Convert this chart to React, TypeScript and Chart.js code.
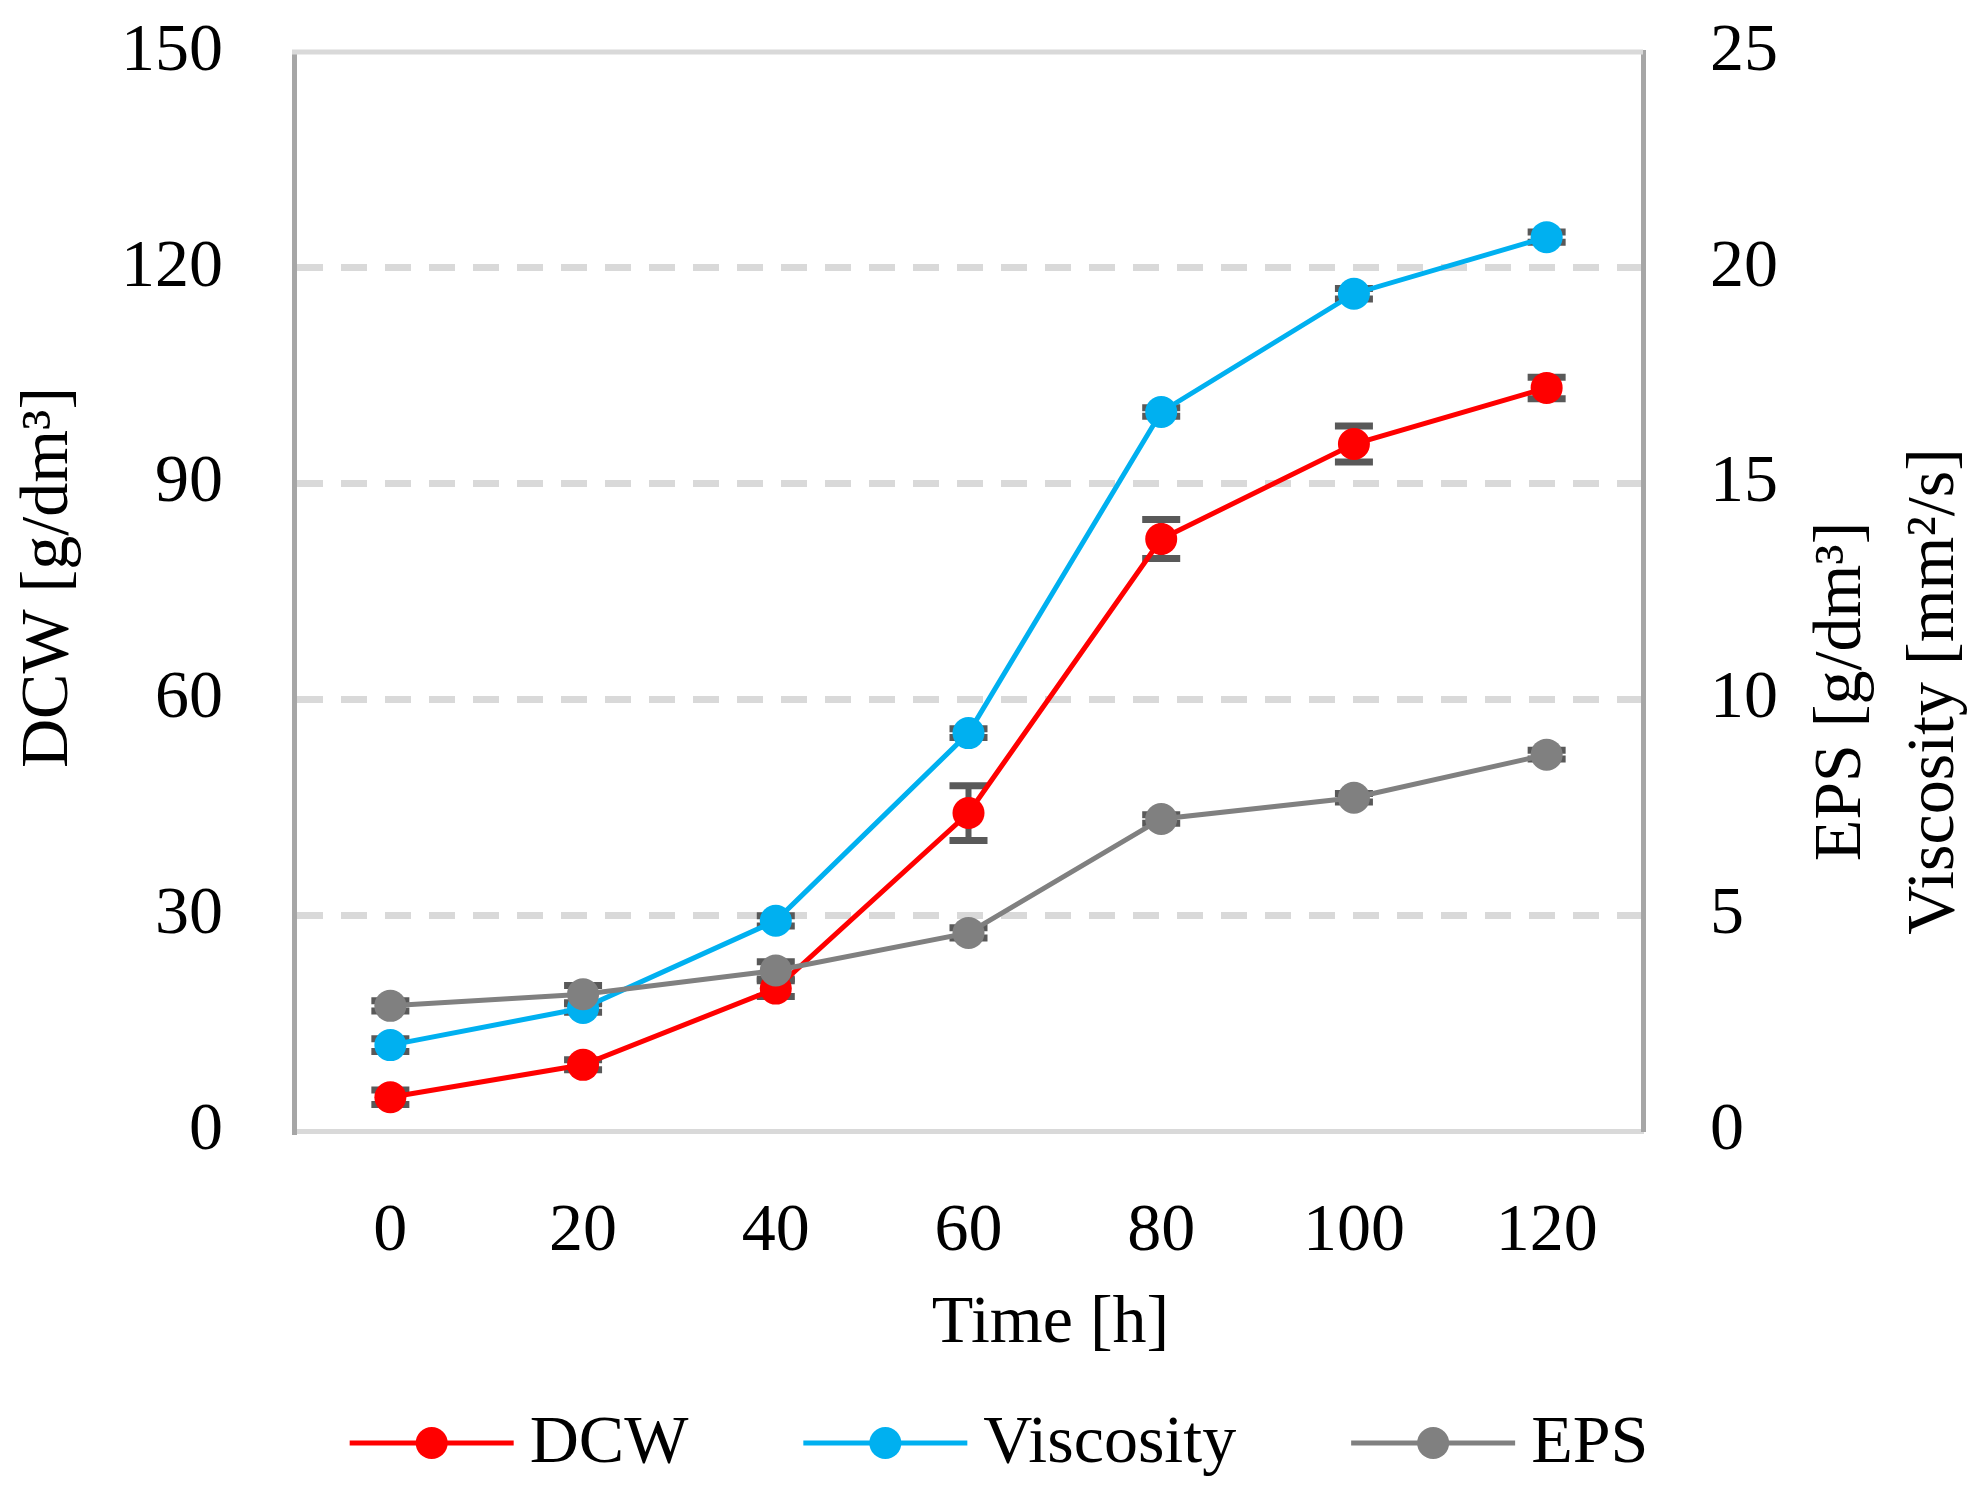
import { useEffect, useRef } from "react"
import { Chart, registerables } from "chart.js"

Chart.register(...registerables)

// values
const timeLabels = ["0", "20", "40", "60", "80", "100", "120"]
const dcwValues = [4.7, 9.2, 19.8, 44.2, 82.3, 95.5, 103.3]
const dcwErrors = [1.0, 0.7, 1.1, 3.8, 2.7, 2.5, 1.5]
const viscosityValues = [1.99, 2.85, 4.87, 9.22, 16.66, 19.4, 20.71]
const viscosityErrors = [0.15, 0.1, 0.12, 0.1, 0.1, 0.12, 0.12]
const epsValues = [2.9, 3.17, 3.72, 4.59, 7.23, 7.72, 8.72]
const epsErrors = [0.12, 0.2, 0.2, 0.12, 0.1, 0.1, 0.1]

const leftMax = 150
const leftStep = 30
const rightMax = 25
const rightStep = 5

const FONT = '"Palatino Linotype", "Book Antiqua", Palatino, "Liberation Serif", serif'
const FONT_SIZE = 68
const ERR_COLOR = "#595959"

const series = [
  { label: "DCW", data: dcwValues, errors: dcwErrors, color: "#ff0000", axis: "y", order: 3 },
  { label: "Viscosity", data: viscosityValues, errors: viscosityErrors, color: "#00b0f0", axis: "y1", order: 2 },
  { label: "EPS", data: epsValues, errors: epsErrors, color: "#808080", axis: "y1", order: 1 },
]

const extras = {
  id: "extras",
  beforeDatasetsDraw(chart: any) {
    const { ctx, chartArea } = chart
    ctx.save()
    // top frame line
    ctx.strokeStyle = "#d9d9d9"
    ctx.lineWidth = 5
    ctx.beginPath()
    ctx.moveTo(chartArea.left - 2, chartArea.top)
    ctx.lineTo(chartArea.right, chartArea.top)
    ctx.stroke()

    // error bars
    ctx.strokeStyle = ERR_COLOR
    series.forEach((s, i) => {
      const meta = chart.getDatasetMeta(i)
      const yScale = chart.scales[s.axis]
      s.data.forEach((v, j) => {
        const x = meta.data[j].x
        const yTop = yScale.getPixelForValue(v + s.errors[j])
        const yBot = yScale.getPixelForValue(v - s.errors[j])
        ctx.lineWidth = 6
        ctx.beginPath()
        ctx.moveTo(x, yTop)
        ctx.lineTo(x, yBot)
        ctx.stroke()
        ctx.lineWidth = 7
        ctx.beginPath()
        ctx.moveTo(x - 19, yTop)
        ctx.lineTo(x + 19, yTop)
        ctx.moveTo(x - 19, yBot)
        ctx.lineTo(x + 19, yBot)
        ctx.stroke()
      })
    })
    ctx.restore()
  },
  afterDraw(chart: any) {
    const { ctx, chartArea } = chart
    ctx.save()
    ctx.fillStyle = "#000"
    ctx.font = `${FONT_SIZE}px ${FONT}`
    ctx.textBaseline = "alphabetic"
    ctx.textAlign = "center"

    // axis titles
    const midY = (chartArea.top + chartArea.bottom) / 2
    ctx.save()
    ctx.translate(67, midY - 14)
    ctx.rotate(-Math.PI / 2)
    ctx.fillText("DCW [g/dm³]", 0, 0)
    ctx.restore()

    ctx.save()
    ctx.translate(chartArea.right + 217, midY + 100)
    ctx.rotate(-Math.PI / 2)
    ctx.fillText("EPS [g/dm³]", 0, 0)
    ctx.fillText("Viscosity [mm²/s]", 0, 93)
    ctx.restore()

    ctx.fillText("Time [h]", (chartArea.left + chartArea.right) / 2 + 82, 1342)

    // legend
    const lineLen = 164
    const textGap = 16
    const itemGap = 115
    const widths = series.map((s) => lineLen + textGap + ctx.measureText(s.label).width)
    const total = widths.reduce((a, b) => a + b, 0) + itemGap * (series.length - 1)
    let x = chart.width / 2 + 6 - total / 2
    const lineY = 1443
    ctx.textAlign = "left"
    series.forEach((s, i) => {
      ctx.strokeStyle = s.color
      ctx.lineWidth = 5
      ctx.beginPath()
      ctx.moveTo(x, lineY)
      ctx.lineTo(x + lineLen, lineY)
      ctx.stroke()
      ctx.fillStyle = s.color
      ctx.beginPath()
      ctx.arc(x + lineLen / 2, lineY, 16, 0, Math.PI * 2)
      ctx.fill()
      ctx.fillStyle = "#000"
      ctx.fillText(s.label, x + lineLen + textGap, 1462)
      x += widths[i] + itemGap
    })
    ctx.restore()
  },
}

function GrowthChart() {
  const chartRef = useRef<HTMLCanvasElement>(null)
  const chartInstance = useRef<Chart | null>(null)

  useEffect(() => {
    document.body.style.margin = "0"
    if (!chartRef.current) return
    if (chartInstance.current) chartInstance.current.destroy()

    const tickFont = { family: FONT, size: FONT_SIZE }

    chartInstance.current = new Chart(chartRef.current, {
      type: "line",
      data: {
        labels: timeLabels,
        datasets: series.map((s) => ({
          label: s.label,
          data: s.data,
          yAxisID: s.axis,
          order: s.order,
          borderColor: s.color,
          backgroundColor: s.color,
          borderWidth: 5,
          pointRadius: 16,
          pointHoverRadius: 16,
          pointBorderWidth: 0,
          pointBackgroundColor: s.color,
          tension: 0,
          fill: false,
        })),
      },
      options: {
        responsive: false,
        animation: false,
        events: [],
        layout: { padding: { top: 52, left: 0, right: 0, bottom: 0 } },
        plugins: {
          legend: { display: false },
          tooltip: { enabled: false },
          title: { display: false },
        },
        scales: {
          x: {
            type: "category",
            offset: true,
            grid: { display: false, drawTicks: false },
            border: { display: true, color: "#d9d9d9", width: 5 },
            ticks: { font: tickFont, color: "#000", padding: 60, maxRotation: 0 },
            afterFit: (scale: any) => {
              scale.height = 367
              scale.paddingLeft = 0
              scale.paddingRight = 0
            },
          },
          y: {
            position: "left",
            min: 0,
            max: leftMax,
            ticks: { stepSize: leftStep, font: tickFont, color: "#000", padding: 71 },
            grid: {
              drawTicks: false,
              lineWidth: 7,
              color: (ctx: any) =>
                ctx.tick && (ctx.tick.value === 0 || ctx.tick.value === leftMax) ? "rgba(0,0,0,0)" : "#d9d9d9",
            },
            border: { display: true, color: "#a6a6a6", width: 5, dash: [26, 18] },
            afterFit: (scale: any) => {
              scale.width = 294
              scale.paddingTop = 0
              scale.paddingBottom = 0
            },
          },
          y1: {
            position: "right",
            min: 0,
            max: rightMax,
            ticks: { stepSize: rightStep, font: tickFont, color: "#000", padding: 67 },
            grid: { drawOnChartArea: false, drawTicks: false },
            border: { display: true, color: "#a6a6a6", width: 5 },
            afterFit: (scale: any) => {
              scale.width = 343
              scale.paddingTop = 0
              scale.paddingBottom = 0
            },
          },
        },
      },
      plugins: [extras],
    })

    return () => {
      if (chartInstance.current) {
        chartInstance.current.destroy()
        chartInstance.current = null
      }
    }
  }, [])

  return (
    <div style={{ width: 1986, height: 1498 }}>
      <canvas ref={chartRef} width={1986} height={1498} />
    </div>
  )
}

export default function App() {
  return <GrowthChart />
}
